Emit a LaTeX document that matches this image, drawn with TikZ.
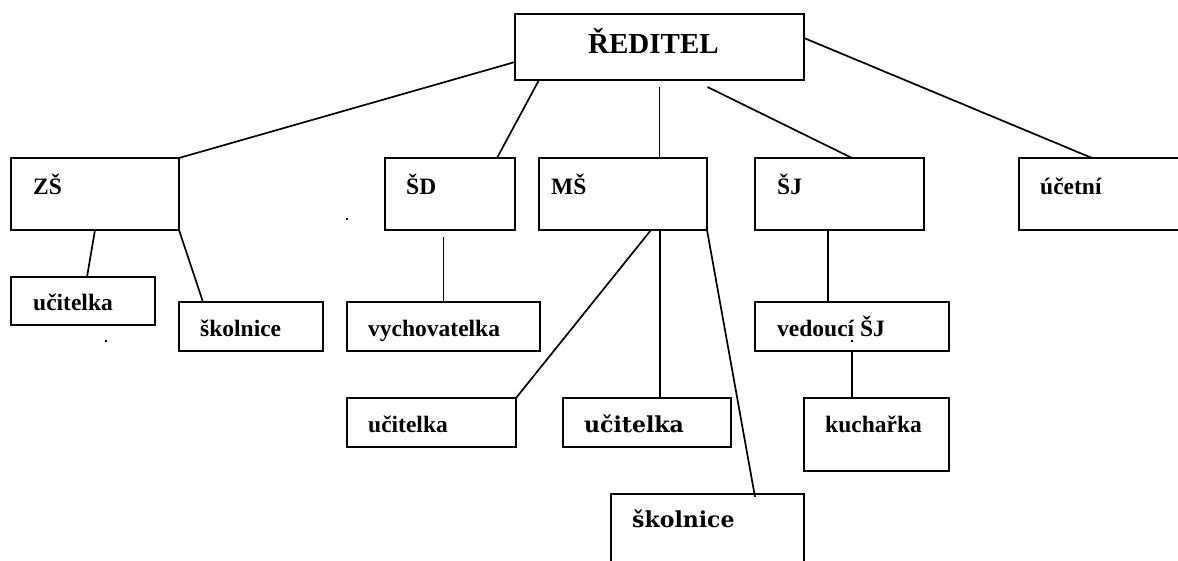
\documentclass[tikz,border=0pt]{standalone}
\usepackage{fontspec}
\setmainfont{Liberation Serif}
\newfontfamily\altfont{DejaVu Serif}
\usetikzlibrary{calc}
\begin{document}
\begin{tikzpicture}[x=1pt,y=-1pt,
  box/.style={draw, line width=2pt, inner sep=0pt, outer sep=0pt, anchor=north west},
  lbl/.style={inner sep=0pt, anchor=base west, font=\bfseries\fontsize{23.5}{24}\selectfont},
  lblbig/.style={inner sep=0pt, anchor=base west, font=\bfseries\fontsize{29}{30}\selectfont},
  lblalt/.style={inner sep=0pt, anchor=base west, font=\altfont\bfseries\fontsize{22}{24}\selectfont},
  conn/.style={line width=1.7pt},
  speck/.style={fill=black, inner sep=0pt, minimum size=1.5pt, draw=none}]
\useasboundingbox (0,0) rectangle (1178,560);
\clip (0,0) rectangle (1178,560);
% boxes
\node[box, minimum width=289pt, minimum height=66pt] (reditel) at (515,14) {};
\node[box, minimum width=168pt, minimum height=72pt] (zs) at (11,158) {};
\node[box, minimum width=130pt, minimum height=72pt] (sd) at (385,158) {};
\node[box, minimum width=168pt, minimum height=72pt] (ms) at (539,158) {};
\node[box, minimum width=169pt, minimum height=72pt] (sj) at (755,158) {};
\node[box, minimum width=200pt, minimum height=72pt] (ucetni) at (1019,158) {};
\node[box, minimum width=144pt, minimum height=48pt] (uczs) at (11,277) {};
\node[box, minimum width=144pt, minimum height=49pt] (skzs) at (179,302) {};
\node[box, minimum width=193pt, minimum height=49pt] (vych) at (347,302) {};
\node[box, minimum width=169pt, minimum height=49pt] (ucmsa) at (347,398) {};
\node[box, minimum width=168pt, minimum height=49pt] (ucmsb) at (563,398) {};
\node[box, minimum width=194pt, minimum height=49pt] (ved) at (755,302) {};
\node[box, minimum width=145pt, minimum height=73pt] (kuch) at (804,398) {};
\node[box, minimum width=193pt, minimum height=90pt] (skms) at (611,494) {};
% texts
\node[lblbig] (treditel) at (588,53) {ŘEDITEL};
\node[lbl] (tzs) at (33,194) {ZŠ};
\node[lbl] (tsd) at (406,194) {ŠD};
\node[lbl] (tms) at (551,194) {MŠ};
\node[lbl] (tsj) at (777,194) {ŠJ};
\node[lbl] (tucetni) at (1040,194) {účetní};
\node[lbl] (tuczs) at (33,310) {učitelka};
\node[lbl] (tskzs) at (200,336) {školnice};
\node[lbl] (tvych) at (368,336) {vychovatelka};
\node[lbl] (tucmsa) at (368,432) {učitelka};
\node[lbl] (tved) at (777,336) {vedoucí ŠJ};
\node[lbl] (tkuch) at (825,432) {kuchařka};
\node[lblalt] (tucmsb) at (584,432) {učitelka};
\node[lblalt] (tskms) at (632,527) {školnice};
% helper coordinates
\coordinate (sdv) at ($(vych.north |- sd.south)+(0,7)$);
\coordinate (rms) at ($(reditel.south)+(0,7)$);
\coordinate (rsj) at ($(reditel.south)+(48,7)$);
% connectors
\draw[conn] ([yshift=-15pt]reditel.west) -- (zs.north east);
\draw[conn] ([xshift=24pt]reditel.south west) -- ([xshift=-18pt]sd.north east);
\draw[conn] (rms) -- (rms |- ms.north);
\draw[conn] (rsj) -- ([xshift=12.5pt]sj.north);
\draw[conn] ([yshift=9pt]reditel.east) -- ([xshift=73pt]ucetni.north west);
\draw[conn] (zs.south) -- ([xshift=4pt]uczs.north);
\draw[conn] (zs.south east) -- ([xshift=24pt]skzs.north west);
\draw[conn] (sdv) -- (vych.north);
\draw[conn] ([xshift=28pt]ms.south) -- (ucmsa.north east);
\draw[conn] ([xshift=37pt]ms.south) -- ([xshift=13pt]ucmsb.north);
\draw[conn] (ms.south east) -- ([xshift=144pt,yshift=-3pt]skms.north west);
\draw[conn] ([xshift=-11.5pt]sj.south) -- ([xshift=-24pt]ved.north);
\draw[conn] (ved.south) -- ([xshift=-24.5pt]kuch.north);
% specks
\node[speck] (s1) at (347,219) {};
\node[speck] (s2) at (106,341) {};
\node[speck] (s3) at (852,341) {};
\end{tikzpicture}
\end{document}
